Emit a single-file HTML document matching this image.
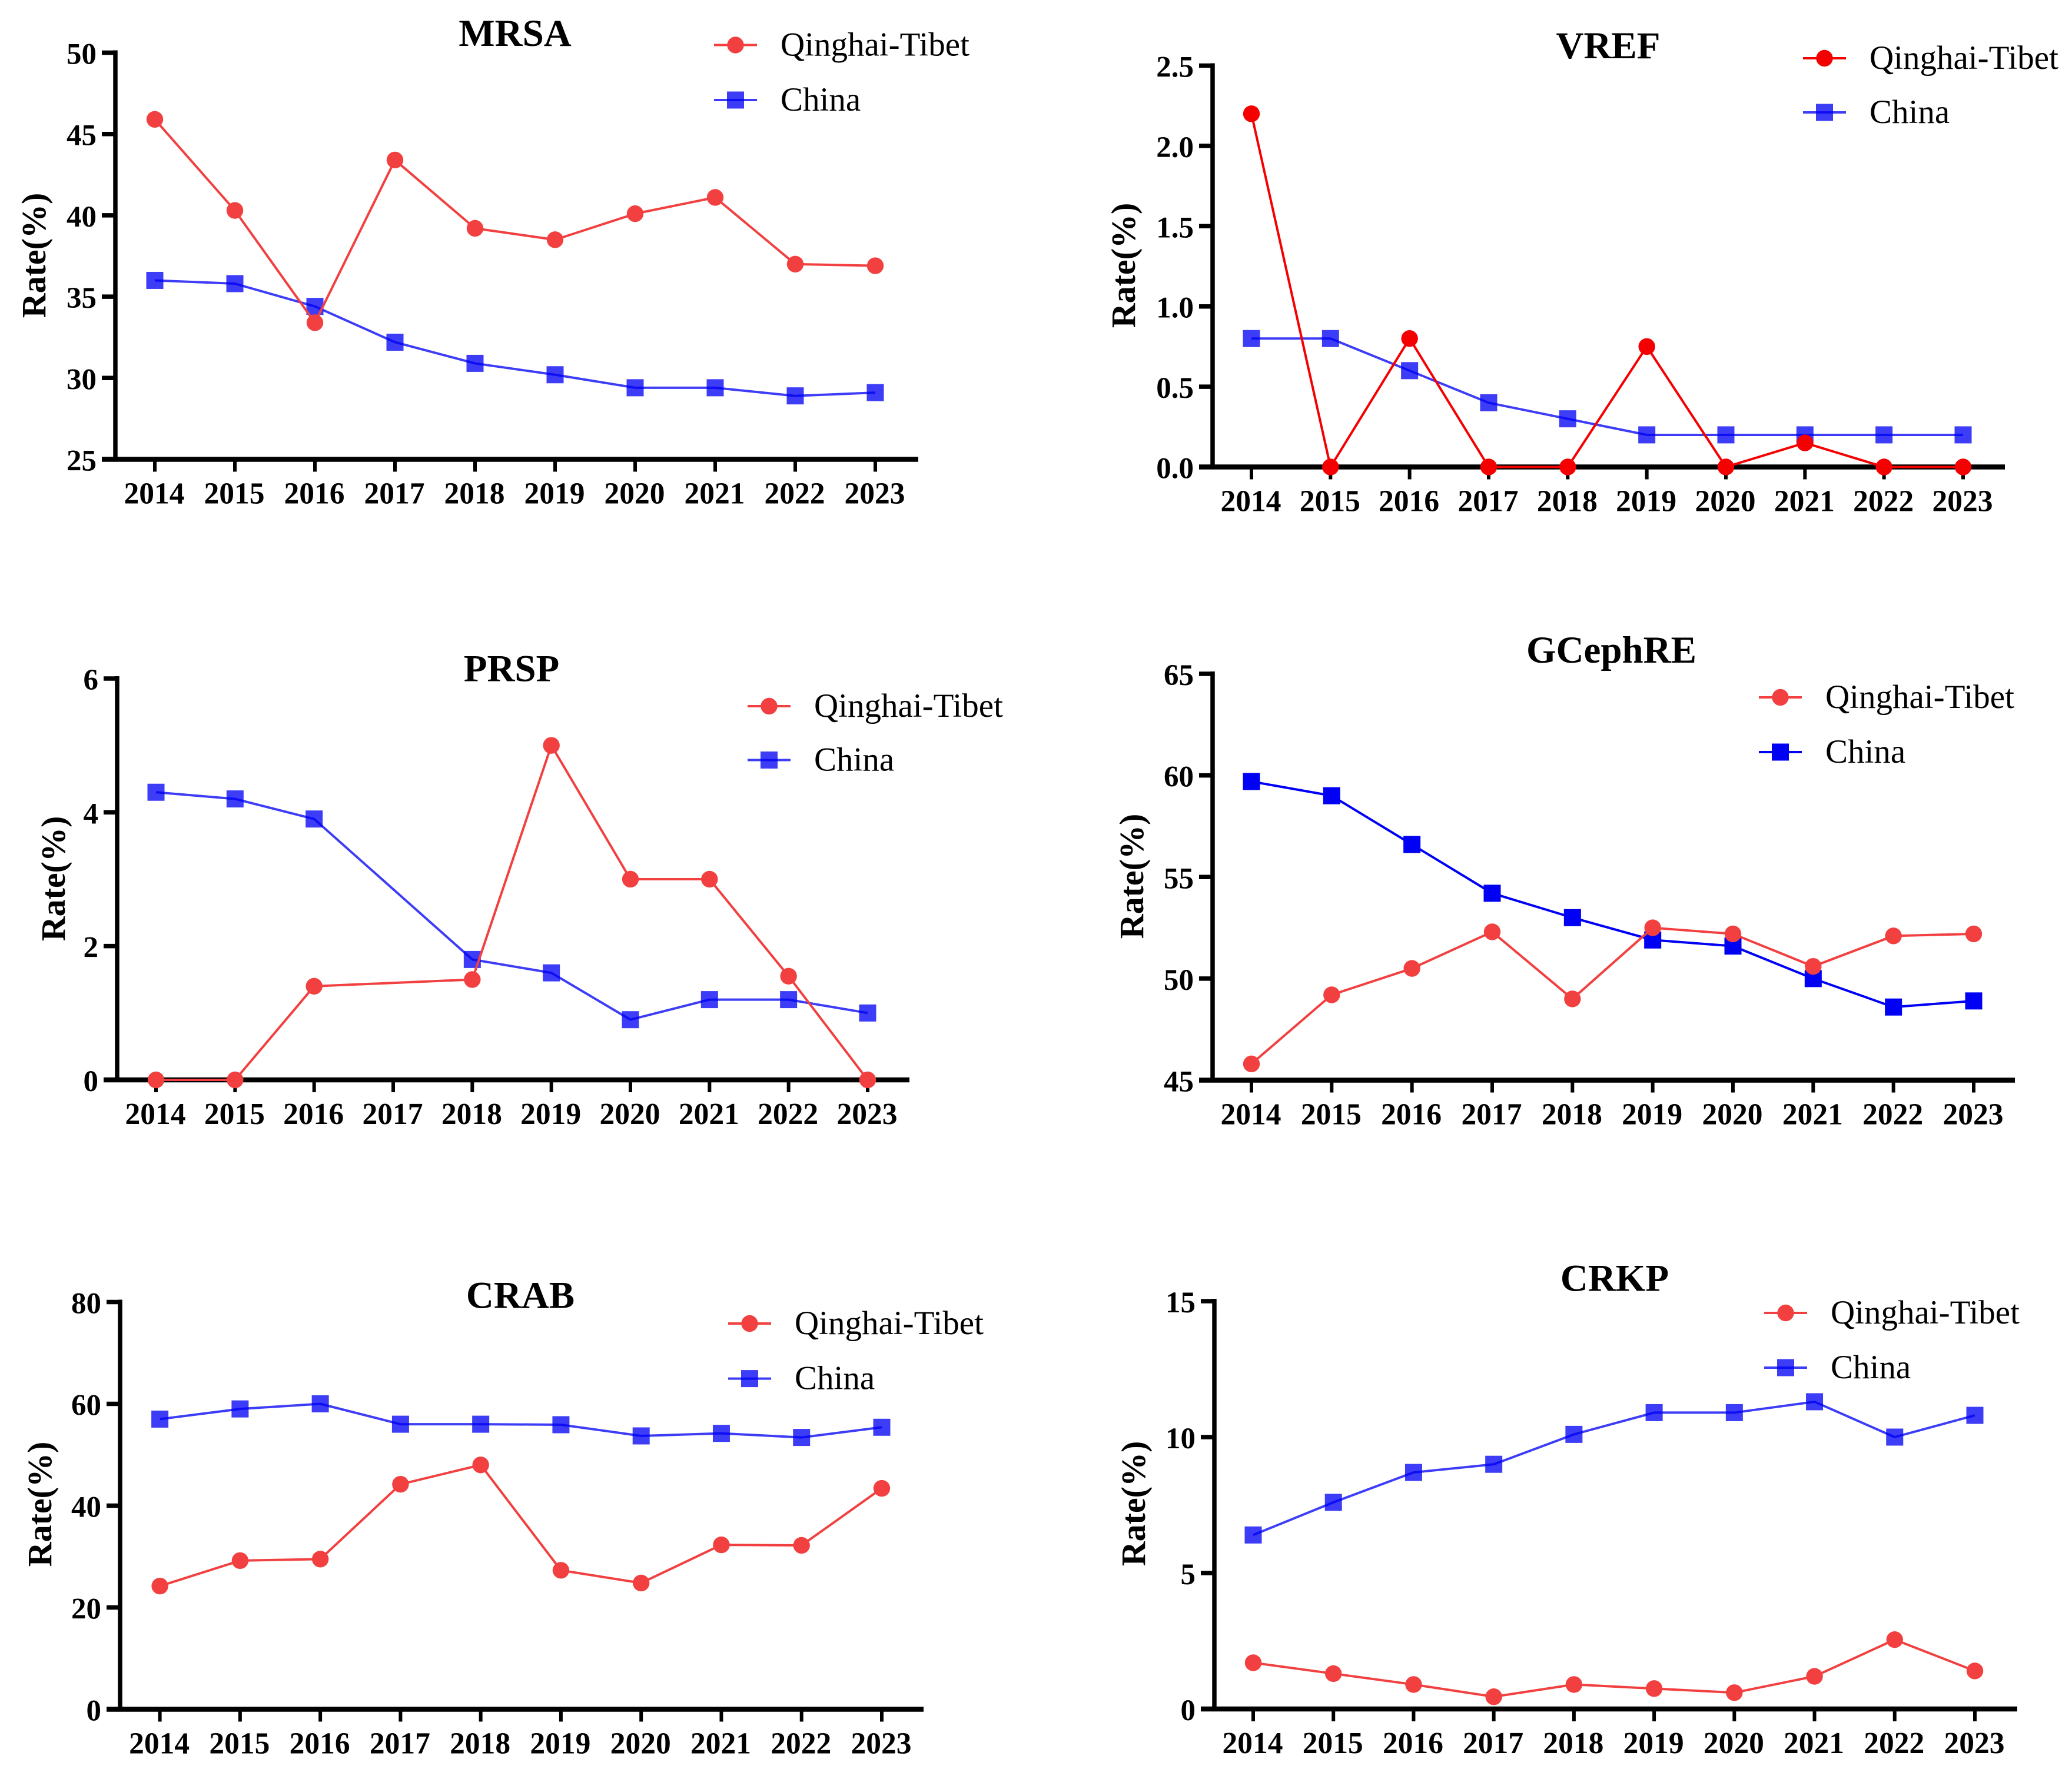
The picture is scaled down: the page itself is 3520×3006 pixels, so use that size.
<!DOCTYPE html>
<html lang="en">
<head>
<meta charset="utf-8">
<title>Resistance rate charts: Qinghai-Tibet vs China</title>
<style>
html,body{margin:0;padding:0;background:#fff;}
svg{display:block;}
text{font-family:"Liberation Serif","DejaVu Serif",serif;fill:#000;}
</style>
</head>
<body>
<svg id="figure" xmlns="http://www.w3.org/2000/svg" width="3520" height="3006" viewBox="0 0 3520 3006">
<rect width="3520" height="3006" fill="#ffffff"/>
</svg>
<script>
const categories = ["2014","2015","2016","2017","2018","2019","2020","2021","2022","2023"];
const seriesNames = ["Qinghai-Tibet","China"];

const mrsaQinghai = [45.9,40.3,33.4,43.4,39.2,38.5,40.1,41.1,37.0,36.9];
const mrsaChina = [36,35.8,34.4,32.2,30.9,30.2,29.4,29.4,28.9,29.1];
const mrsaTicks = ["25","30","35","40","45","50"];

const vrefQinghai = [2.2,0,0.8,0,0,0.75,0,0.15,0,0];
const vrefChina = [0.8,0.8,0.6,0.4,0.3,0.2,0.2,0.2,0.2,0.2];
const vrefTicks = ["0.0","0.5","1.0","1.5","2.0","2.5"];

const prspQinghai = [0,0,1.4,null,1.5,5,3,3,1.55,0];
const prspChina = [4.3,4.2,3.9,null,1.8,1.6,0.9,1.2,1.2,1.0];
const prspTicks = ["0","2","4","6"];

const gcephreQinghai = [45.8,49.2,50.5,52.3,49,52.5,52.2,50.6,52.1,52.2];
const gcephreChina = [59.7,59,56.6,54.2,53,51.9,51.6,50,48.6,48.9];
const gcephreTicks = ["45","50","55","60","65"];

const crabQinghai = [24.2,29.2,29.5,44.2,48,27.3,24.8,32.3,32.2,43.4];
const crabChina = [57,59,60,56,56,55.9,53.7,54.2,53.4,55.4];
const crabTicks = ["0","20","40","60","80"];

const crkpQinghai = [1.7,1.3,0.9,0.45,0.9,0.75,0.6,1.2,2.55,1.4];
const crkpChina = [6.4,7.6,8.7,9,10.1,10.9,10.9,11.3,10,10.8];
const crkpTicks = ["0","5","10","15"];

const SOFT_RED = "#f24040", PURE_RED = "#f50000", BLUE = "#0000f5", SOFT = 0.76;
const panels = [
 {title:"MRSA",q:mrsaQinghai,c:mrsaChina,ticks:mrsaTicks,left:196,top:89.5,bottom:780.5,x0:263,x9:1487,end:1560,
  tx:875,ty:78,lx:1213,lq:76.5,lc:170,yx:77,yy:434,red:SOFT_RED,bo:SOFT},
 {title:"VREF",q:vrefQinghai,c:vrefChina,ticks:vrefTicks,left:2060,top:111.5,bottom:793.5,x0:2126,x9:3335,end:3406,
  tx:2732,ty:99,lx:3063,lq:99,lc:191,yx:1928,yy:451,red:PURE_RED,bo:SOFT},
 {title:"PRSP",q:prspQinghai,c:prspChina,ticks:prspTicks,left:199,top:1153,bottom:1835,x0:265,x9:1474,end:1545,
  tx:869,ty:1157.5,lx:1270,lq:1200,lc:1291.5,yx:110,yy:1493,red:SOFT_RED,bo:SOFT},
 {title:"GCephRE",q:gcephreQinghai,c:gcephreChina,ticks:gcephreTicks,left:2060,top:1145,bottom:1835.5,x0:2126,x9:3353,end:3423,
  tx:2737.5,ty:1126,lx:2988,lq:1185,lc:1278,yx:1942,yy:1489,red:SOFT_RED,bo:1},
 {title:"CRAB",q:crabQinghai,c:crabChina,ticks:crabTicks,left:204,top:2212.5,bottom:2904.5,x0:271.6,x9:1498,end:1569,
  tx:884,ty:2222.5,lx:1237,lq:2249,lc:2342.6,yx:87,yy:2556,red:SOFT_RED,bo:SOFT},
 {title:"CRKP",q:crkpQinghai,c:crkpChina,ticks:crkpTicks,left:2063,top:2211,bottom:2904,x0:2129,x9:3355,end:3427,
  tx:2743,ty:2193.6,lx:2997,lq:2231,lc:2324,yx:1945,yy:2555,red:SOFT_RED,bo:SOFT}
];

const NS = "http://www.w3.org/2000/svg";
const root = document.getElementById("figure");
function mk(parent, tag, props, txt){
  const el = document.createElementNS(NS, tag);
  for (const k in props) el.setAttribute(k, props[k]);
  if (txt !== undefined) el.textContent = txt;
  parent.appendChild(el);
  return el;
}
function drawMarker(g, kind, x, y, color, op){
  if (kind === "circle") return mk(g, "circle", {cx:x, cy:y, r:14.2, fill:color, "fill-opacity":op});
  return mk(g, "rect", {x:x-14.5, y:y-14.5, width:29, height:29, fill:color, "fill-opacity":op});
}
function drawSeries(g, values, xScale, yScale, color, op, kind, key){
  const pts = [];
  values.forEach(function(v, i){ if (v !== null) pts.push([xScale(i), yScale(v)]); });
  const line = mk(g, "polyline", {points:pts.map(function(p){return p[0]+","+p[1];}).join(" "), fill:"none", stroke:color, "stroke-opacity":op, "stroke-width":4, "stroke-linejoin":"round"});
  
  
  values.forEach(function(v, i){
    if (v === null) return;
    const m = drawMarker(g, kind, xScale(i), yScale(v), color, op);
    
    
  });
}
function drawPanel(p){
  const slug = p.title.toLowerCase();
  const g = mk(root, "g", {});
  
  
  const tmin = parseFloat(p.ticks[0]), tmax = parseFloat(p.ticks[p.ticks.length-1]);
  const xScale = function(i){ return p.x0 + (p.x9 - p.x0) * i / (categories.length - 1); };
  const yScale = function(v){ return p.bottom - (v - tmin) / (tmax - tmin) * (p.bottom - p.top); };

  const axes = mk(g, "g", {stroke:"#000"});
  
  
  const yAxis = mk(axes, "line", {x1:p.left, x2:p.left, y1:p.top-4, y2:p.bottom+4, "stroke-width":7.5});
  
  
  const xAxis = mk(axes, "line", {x1:p.left-23, x2:p.end, y1:p.bottom, y2:p.bottom, "stroke-width":8.5});
  
  

  p.ticks.forEach(function(t){
    const y = yScale(parseFloat(t));
    const tick = mk(axes, "line", {x1:p.left-23, x2:p.left, y1:y, y2:y, "stroke-width":7.5});
    
    
    const lab = mk(g, "text", {x:p.left-32, y:y+19, "text-anchor":"end", "font-size":51, "font-weight":"bold"}, t);
    
    
  });
  categories.forEach(function(c, i){
    const x = xScale(i);
    const tick = mk(axes, "line", {x1:x, x2:x, y1:p.bottom, y2:p.bottom+21, "stroke-width":6});
    
    
    const lab = mk(g, "text", {x:x-1, y:p.bottom+75, "text-anchor":"middle", "font-size":51.5, "font-weight":"bold"}, c);
    
    
  });

  drawSeries(g, p.c, xScale, yScale, BLUE, p.bo, "square", slug + '-china');
  drawSeries(g, p.q, xScale, yScale, p.red, 1, "circle", slug + '-qinghai-tibet');

  const title = mk(g, "text", {x:p.tx, y:p.ty, "text-anchor":"middle", "font-size":65, "font-weight":"bold"}, p.title);
  
  

  const yTitle = mk(g, "text", {transform:"translate("+p.yx+","+p.yy+") rotate(-90)", "text-anchor":"middle", "font-size":58, "font-weight":"bold"}, "Rate(%)");
  
  

  [[seriesNames[0], p.lq, p.red, 1, "circle"], [seriesNames[1], p.lc, BLUE, p.bo, "square"]].forEach(function(e){
    const lg = mk(g, "g", {});
    
    
    mk(lg, "line", {x1:p.lx, x2:p.lx+73, y1:e[1], y2:e[1], stroke:e[2], "stroke-opacity":e[3], "stroke-width":4});
    drawMarker(lg, e[4], p.lx+36.5, e[1], e[2], e[3]);
    mk(lg, "text", {x:p.lx+113, y:e[1]+18, "font-size":57}, e[0]);
  });
}
panels.forEach(drawPanel);
</script>
</body>
</html>
